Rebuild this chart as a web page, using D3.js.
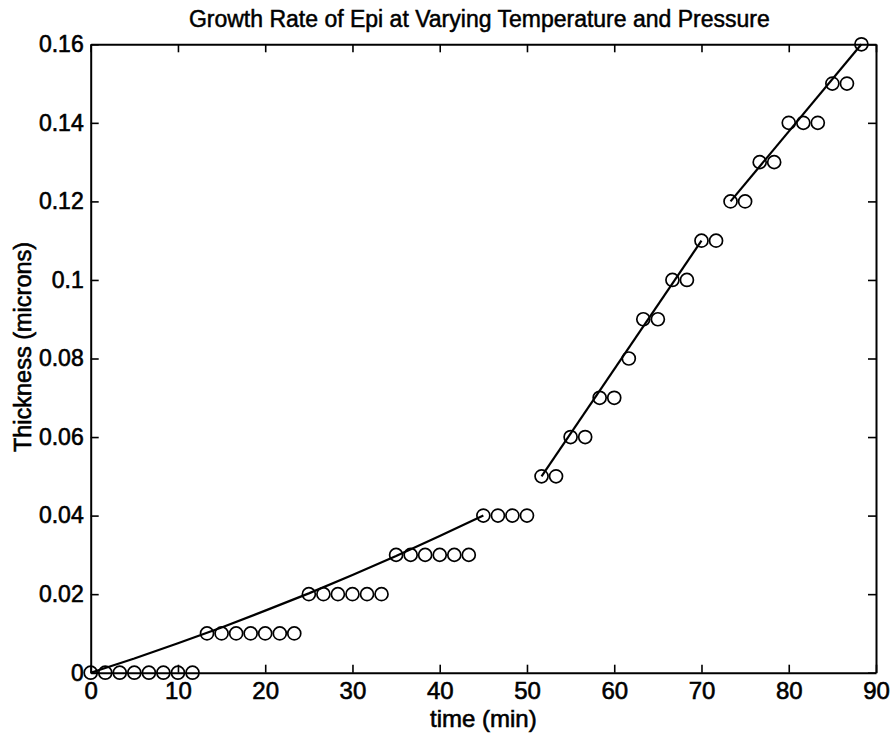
<!DOCTYPE html>
<html>
<head>
<meta charset="utf-8">
<script src="https://cdn.jsdelivr.net/npm/d3@7"></script>
<style>
  html, body { margin: 0; padding: 0; background: #fff; }
  svg { display: block; font-family: "Liberation Sans", Arial, Helvetica, sans-serif; }
</style>
</head>
<body>
<svg id="chart" width="892" height="736"></svg>
<script>
// Measured epi thickness over time (one reading every 100 s)
const timeMin = [0, 1.67, 3.33, 5, 6.67, 8.33, 10, 11.67,
  13.33, 15, 16.67, 18.33, 20, 21.67, 23.33,
  25, 26.67, 28.33, 30, 31.67, 33.33,
  35, 36.67, 38.33, 40, 41.67, 43.33,
  45, 46.67, 48.33, 50,
  51.67, 53.33, 55, 56.67, 58.33, 60, 61.67, 63.33, 65, 66.67, 68.33, 70, 71.67,
  73.33, 75, 76.67, 78.33, 80, 81.67, 83.33, 85, 86.67, 88.33];
const thickness = [0, 0, 0, 0, 0, 0, 0, 0,
  0.01, 0.01, 0.01, 0.01, 0.01, 0.01, 0.01,
  0.02, 0.02, 0.02, 0.02, 0.02, 0.02,
  0.03, 0.03, 0.03, 0.03, 0.03, 0.03,
  0.04, 0.04, 0.04, 0.04,
  0.05, 0.05, 0.06, 0.06, 0.07, 0.07, 0.08, 0.09, 0.09, 0.10, 0.10, 0.11, 0.11,
  0.12, 0.12, 0.13, 0.13, 0.14, 0.14, 0.14, 0.15, 0.15, 0.16];

// Fitted growth curves for the three temperature/pressure regimes
const fit1Time = [0, 5, 10, 15, 20, 25, 30, 35, 40, 45];
const fit1Thick = [0, 0.0036, 0.0075, 0.0115, 0.0158, 0.0202, 0.0249, 0.0297, 0.0348, 0.04];
const fit2Time = [51.67, 70];
const fit2Thick = [0.05, 0.11];
const fit3Time = [73.33, 88.33];
const fit3Thick = [0.12, 0.16];

// Axis ticks and labels
const xTicks = [0, 10, 20, 30, 40, 50, 60, 70, 80, 90];
const xTickLabels = ["0", "10", "20", "30", "40", "50", "60", "70", "80", "90"];
const yTicks = [0, 0.02, 0.04, 0.06, 0.08, 0.1, 0.12, 0.14, 0.16];
const yTickLabels = ["0", "0.02", "0.04", "0.06", "0.08", "0.1", "0.12", "0.14", "0.16"];

const titleText = "Growth Rate of Epi at Varying Temperature and Pressure";
const xTitle = "time (min)";
const yTitle = "Thickness (microns)";

const box = { left: 90.7, right: 876, top: 44.3, bottom: 672.7 };
const tickLen = 8;

const svg = d3.select("#chart");
const x = d3.scaleLinear().domain([0, 90]).range([box.left, box.right]);
const y = d3.scaleLinear().domain([0, 0.16]).range([box.bottom, box.top]);

// Text is drawn with a thin outline so it reads as heavy as the printed figure
const heavy = sel => sel.attr("fill", "#000").attr("stroke", "#000").attr("stroke-width", 0.6);

// Inward ticks on all four sides of the frame
const xLabelFmt = (d, i) => xTickLabels[i];
const yLabelFmt = (d, i) => yTickLabels[i];

const bottomAxis = svg.append("g")
  .attr("transform", `translate(0,${box.bottom})`)
  .call(d3.axisBottom(x).tickValues(xTicks).tickFormat(xLabelFmt).tickSizeInner(-tickLen).tickSizeOuter(0).tickPadding(9));
const topAxis = svg.append("g")
  .attr("transform", `translate(0,${box.top})`)
  .call(d3.axisTop(x).tickValues(xTicks).tickFormat("").tickSizeInner(-tickLen).tickSizeOuter(0));
const leftAxis = svg.append("g")
  .attr("transform", `translate(${box.left},0)`)
  .call(d3.axisLeft(y).tickValues(yTicks).tickFormat(yLabelFmt).tickSizeInner(-tickLen).tickSizeOuter(0).tickPadding(7));
const rightAxis = svg.append("g")
  .attr("transform", `translate(${box.right},0)`)
  .call(d3.axisRight(y).tickValues(yTicks).tickFormat("").tickSizeInner(-tickLen).tickSizeOuter(0));

[bottomAxis, topAxis, leftAxis, rightAxis].forEach(g => {
  g.select(".domain").attr("stroke", "#000").attr("stroke-width", 2);
  g.selectAll(".tick line").attr("stroke", "#000").attr("stroke-width", 1.6);
});
bottomAxis.selectAll(".tick text").attr("font-size", 24).call(heavy);
leftAxis.selectAll(".tick text").attr("font-size", 23).call(heavy);

// Fitted curves
const line = d3.line().x(d => x(d[0])).y(d => y(d[1]));
[[fit1Time, fit1Thick], [fit2Time, fit2Thick], [fit3Time, fit3Thick]].forEach(([ts, vs]) => {
  svg.append("path")
    .datum(ts.map((t, i) => [t, vs[i]]))
    .attr("d", line)
    .attr("fill", "none")
    .attr("stroke", "#000")
    .attr("stroke-width", 2.2)
    .attr("stroke-linejoin", "round");
});

// Measured points as open circles
svg.append("g").selectAll("circle")
  .data(timeMin.map((t, i) => [t, thickness[i]]))
  .join("circle")
  .attr("cx", d => x(d[0]))
  .attr("cy", d => y(d[1]))
  .attr("r", 6.5)
  .attr("fill", "none")
  .attr("stroke", "#000")
  .attr("stroke-width", 1.7);

// Titles
svg.append("text")
  .attr("x", (box.left + box.right) / 2 - 4)
  .attr("y", 27)
  .attr("text-anchor", "middle")
  .attr("font-size", 23)
  .call(heavy)
  .attr("stroke-width", 0.5)
  .text(titleText);

svg.append("text")
  .attr("x", x(45))
  .attr("y", 727)
  .attr("text-anchor", "middle")
  .attr("font-size", 24)
  .call(heavy)
  .text(xTitle);

svg.append("text")
  .attr("transform", `translate(31,${347}) rotate(-90)`)
  .attr("text-anchor", "middle")
  .attr("font-size", 23.5)
  .call(heavy)
  .text(yTitle);
</script>
</body>
</html>
